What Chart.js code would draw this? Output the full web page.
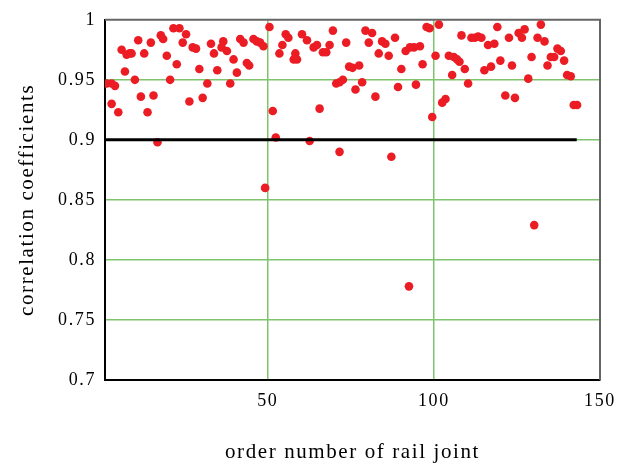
<!DOCTYPE html>
<html>
<head>
<meta charset="utf-8">
<script src="https://cdn.jsdelivr.net/npm/chart.js@4/dist/chart.umd.min.js"></script>
<style>
  html, body { margin: 0; padding: 0; background: #fff; }
</style>
</head>
<body>
<canvas id="jointChart" width="624" height="465"></canvas>
<script>
// order number of the rail joint (x) and its correlation coefficient (y)
var jointNo = [
  1.5, 3, 3, 4, 5, 6, 7, 7.5, 8.4, 9,
  10, 11, 11.8, 12.8, 13.8, 14.8, 15.6, 16.8, 17.8, 18.5,
  19.6, 20.6, 21.6, 22.6, 23.4, 24.4, 25.4, 26.4, 27.4, 28.4,
  29.4, 30.4, 31.8, 32.9, 33.8, 34.8, 36.1, 36.6, 37.7, 38.7,
  39.7, 40.7, 41.7, 42.7, 43.7, 44.4, 45.7, 46.7, 47.7, 48.7,
  49.2, 50.5, 51.5, 52.4, 53.5, 54.4, 55.4, 56.2, 57.8, 58.3,
  58.8, 60.3, 61.8, 62.6, 63.8, 64.8, 65.6, 66.6, 67.6, 68.6,
  69.6, 70.6, 71.6, 71.6, 72.6, 73.6, 74.5, 75.5, 76.4, 77.5,
  78.4, 79.4, 80.4, 81.4, 82.4, 83.4, 84.4, 85.4, 86.4, 87.2,
  88.3, 89.2, 90.2, 91.5, 92.5, 92.8, 94, 94.6, 95.8, 96.6,
  97.8, 98.7, 99.5, 100.5, 101.5, 102.5, 103.5, 104.5, 105.5, 106,
  107, 107.7, 108.3, 109.3, 110.3, 111.3, 112.3, 113.3, 114.3, 115.2,
  116.3, 117.2, 118.2, 119.1, 120, 121.5, 122.6, 123.5, 124.4, 125.5,
  126.5, 127.3, 128.4, 129.4, 130.2, 131.2, 132.2, 133.3, 134.2, 135.2,
  136.2, 137.2, 138.2, 139.2, 140.1, 141.2, 142.1, 143.1
];
var corrCoef = [
  0.947, 0.947, 0.930, 0.945, 0.923, 0.975, 0.957, 0.971, 0.972, 0.972,
  0.950, 0.983, 0.936, 0.972, 0.923, 0.981, 0.937, 0.898, 0.987, 0.984,
  0.970, 0.950, 0.993, 0.963, 0.993, 0.981, 0.988, 0.932, 0.977, 0.976,
  0.959, 0.935, 0.947, 0.980, 0.972, 0.958, 0.977, 0.982, 0.974, 0.947,
  0.967, 0.956, 0.984, 0.981, 0.964, 0.962, 0.984, 0.982, 0.981, 0.978,
  0.860, 0.994, 0.924, 0.902, 0.972, 0.979, 0.988, 0.985, 0.967, 0.972,
  0.967, 0.988, 0.983, 0.899, 0.977, 0.979, 0.926, 0.973, 0.973, 0.979,
  0.991, 0.947, 0.890, 0.948, 0.950, 0.981, 0.961, 0.960, 0.942, 0.962,
  0.948, 0.991, 0.981, 0.989, 0.936, 0.972, 0.982, 0.980, 0.970, 0.886,
  0.985, 0.944, 0.959, 0.974, 0.778, 0.977, 0.977, 0.946, 0.978, 0.963,
  0.994, 0.993, 0.919, 0.970, 0.996, 0.931, 0.934, 0.970, 0.954, 0.969,
  0.967, 0.965, 0.987, 0.959, 0.947, 0.985, 0.985, 0.986, 0.985, 0.958,
  0.979, 0.961, 0.980, 0.994, 0.966, 0.937, 0.985, 0.962, 0.935, 0.989,
  0.985, 0.992, 0.951, 0.969, 0.829, 0.985, 0.996, 0.982, 0.962, 0.969,
  0.969, 0.976, 0.974, 0.966, 0.954, 0.953, 0.929, 0.929
];

// threshold line at 0.9
var thresholdX = [1, 143];
var thresholdY = [0.9, 0.9];

var xTicks = [50, 100, 150];

var serif = "'Liberation Serif', 'Times New Roman', serif",
    green = '#7fc46c',
    none = 'rgba(0,0,0,0)';

function pairs(xs, ys) {
  return xs.map(function(x, i) { return { x: x, y: ys[i] }; });
}

var frame = {
  id: 'frame',
  beforeDraw: function(chart) {
    chart.ctx.letterSpacing = '1.6px';
  },
  beforeDatasetsDraw: function(chart) {
    var ctx = chart.ctx, a = chart.chartArea;
    ctx.save();
    ctx.strokeStyle = '#666';
    ctx.lineWidth = 2;
    ctx.beginPath();
    ctx.moveTo(a.left, a.top);
    ctx.lineTo(a.right, a.top);
    ctx.lineTo(a.right, a.bottom);
    ctx.stroke();
    ctx.restore();
  }
};

var ctx = document.getElementById('jointChart').getContext('2d');
new Chart(ctx, {
  type: 'scatter',
  data: {
    datasets: [{
      type: 'line',
      data: pairs(thresholdX, thresholdY),
      borderColor: '#000',
      borderWidth: 3,
      pointRadius: 0,
      fill: false
    }, {
      data: pairs(jointNo, corrCoef),
      backgroundColor: '#ec1c24',
      borderWidth: 0,
      pointRadius: 4.3
    }]
  },
  options: {
    responsive: false,
    animation: false,
    plugins: { legend: { display: false }, tooltip: { enabled: false } },
    layout: { padding: { top: 17, right: 24, left: 0, bottom: 0 } },
    scales: {
      x: {
        type: 'linear',
        min: 1,
        max: 150,
        afterBuildTicks: function(s) {
          s.ticks = xTicks.map(function(v) { return { value: v }; });
        },
        afterFit: function(s) { s.height = 85; },
        grid: {
          color: function(c) { return c.tick && c.tick.value === 150 ? none : green; },
          lineWidth: 1.5,
          drawTicks: false
        },
        border: { color: '#000', width: 2 },
        ticks: { padding: 10, color: '#000', maxRotation: 0, font: { family: serif, size: 18 } },
        title: {
          display: true,
          text: 'order number of rail joint',
          color: '#000',
          font: { family: serif, size: 21 },
          padding: { top: 0, bottom: 0 }
        }
      },
      y: {
        min: 0.7,
        max: 1,
        afterFit: function(s) { s.width = 105; },
        grid: {
          color: function(c) {
            var v = c.tick ? c.tick.value : 0;
            return (v < 0.7001 || v > 0.9999) ? none : green;
          },
          lineWidth: 1.5,
          drawTicks: false
        },
        border: { color: '#000', width: 2 },
        ticks: {
          stepSize: 0.05,
          padding: 9,
          color: '#000',
          font: { family: serif, size: 18 },
          callback: function(v) { return String(parseFloat(v.toFixed(2))); }
        },
        title: {
          display: true,
          text: 'correlation coefficients',
          color: '#000',
          font: { family: serif, size: 21 },
          padding: { top: 15, bottom: 0 }
        }
      }
    }
  },
  plugins: [frame]
});
</script>
</body>
</html>
